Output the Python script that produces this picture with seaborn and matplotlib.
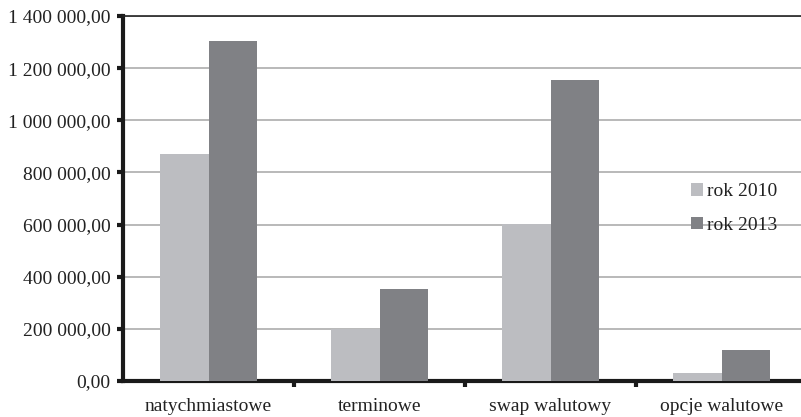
import matplotlib
matplotlib.use("Agg")
import matplotlib.pyplot as plt
import seaborn as sns
import pandas as pd
from matplotlib.ticker import FixedLocator, FuncFormatter

# Transaction volumes by instrument type
categories = ["natychmiastowe", "terminowe", "swap walutowy", "opcje walutowe"]
rok_2010 = [871000, 200000, 601000, 30000]
rok_2013 = [1304000, 352000, 1155000, 119000]
series_names = ["rok 2010", "rok 2013"]
y_ticks = [0, 200000, 400000, 600000, 800000, 1000000, 1200000, 1400000]

df = pd.DataFrame({
    "kategoria": categories * 2,
    "wartosc": rok_2010 + rok_2013,
    "seria": [series_names[0]] * len(categories) + [series_names[1]] * len(categories),
})

sns.set_theme(style="white")
plt.rcParams["font.family"] = ["Liberation Serif", "DejaVu Serif"]

FS = 14

fig = plt.figure(figsize=(8.01, 4.17), dpi=100)
ax = fig.add_axes([123 / 801, 36 / 417, 684 / 801, 365 / 417])

palette = {"rok 2010": "#bcbdc1", "rok 2013": "#808185"}
sns.barplot(data=df, x="kategoria", y="wartosc", hue="seria", palette=palette,
            width=0.566, saturation=1, ax=ax, zorder=3, linewidth=0)

ax.set_ylim(0, 1400000)
ax.set_xlim(-0.5, 3.5)
ax.yaxis.set_major_locator(FixedLocator(y_ticks))


def pl_fmt(v, pos):
    s = f"{int(round(v)):,}".replace(",", " ")
    return s + ",00"


ax.yaxis.set_major_formatter(FuncFormatter(pl_fmt))
ax.grid(axis="y", color="#b3b3b3", linewidth=1.3, zorder=0)
ax.grid(axis="x", visible=False)
ax.set_axisbelow(True)

for side in ["left", "bottom"]:
    ax.spines[side].set_visible(True)
    ax.spines[side].set_color("#1a1a1a")
    ax.spines[side].set_linewidth(3)
ax.spines["top"].set_color("#222222")
ax.spines["top"].set_linewidth(1.2)
ax.spines["right"].set_visible(False)

ax.tick_params(axis="y", which="major", direction="out", length=4, width=3,
               color="#1a1a1a", left=True, labelsize=FS, labelcolor="#222222", pad=5)
ax.set_xticks(range(len(categories)))
ax.set_xticklabels(categories)
ax.tick_params(axis="x", which="major", length=0, labelsize=FS, labelcolor="#222222", pad=12)
ax.set_xticks([0.5, 1.5, 2.5], minor=True)
ax.tick_params(axis="x", which="minor", direction="out", length=4, width=3,
               color="#1a1a1a", bottom=True)

ax.set_xlabel("")
ax.set_ylabel("")

leg = ax.legend(loc="upper left", bbox_to_anchor=(0.8155, 0.57), frameon=False,
                fontsize=FS, handlelength=0.65, handleheight=0.65, handletextpad=0.2,
                labelspacing=0.85, borderpad=0)
for t in leg.get_texts():
    t.set_color("#222222")

fig.savefig("out.png", dpi=100)
